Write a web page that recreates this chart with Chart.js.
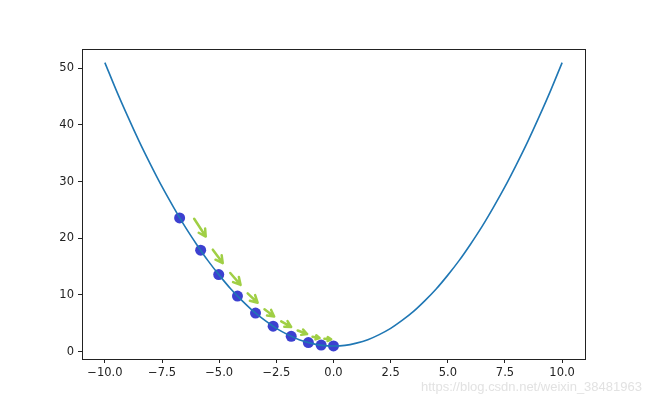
<!DOCTYPE html>
<html>
<head>
<meta charset="utf-8">
<script src="https://cdn.jsdelivr.net/npm/chart.js@4"></script>
<style>
  body { margin: 0; background: #fff; }
  #wrap { width: 650px; height: 404px; }
</style>
</head>
<body>
<div id="wrap"><canvas id="myChart" width="650" height="404"></canvas></div>
<script>
// curve f(x)
let curveX = [-10, -9.5, -9, -8.5, -8, -7.5, -7, -6.5, -6, -5.5, -5, -4.5, -4, -3.5, -3, -2.5, -2, -1.5, -1, -0.5, 0,
  0.5, 1, 1.5, 2, 2.5, 3, 3.5, 4, 4.5, 5, 5.5, 6, 6.5, 7, 7.5, 8, 8.5, 9, 9.5, 10];
let curveY = [51, 46.1, 41.5, 37.1, 33, 29.1, 25.5, 22.1, 19, 16.1, 13.5, 11.1, 9, 7.1, 5.5, 4.1, 3, 2.1, 1.5, 1.1, 1,
  1.1, 1.5, 2.1, 3, 4.1, 5.5, 7.1, 9, 11.1, 13.5, 16.1, 19, 22.1, 25.5, 29.1, 33, 37.1, 41.5, 46.1, 51];

// descent steps (blue dots)
let stepX = [-6.73, -5.81, -5.02, -4.20, -3.41, -2.64, -1.85, -1.10, -0.54, 0.0];
let stepY = [23.6, 17.9, 13.6, 9.8, 6.8, 4.5, 2.7, 1.6, 1.15, 1.0];

let xTicks = [-10, -7.5, -5, -2.5, 0, 2.5, 5, 7.5, 10];
let yTicks = [0, 10, 20, 30, 40, 50];

let watermark = 'https://blog.csdn.net/weixin_38481963';

let curvePts = curveX.map((x, i) => ({ x: x, y: curveY[i] }));
let stepPts = stepX.map((x, i) => ({ x: x, y: stepY[i] }));

let font = { family: 'DejaVu Sans', size: 11.5 };

// box, green arrows and watermark
let extras = {
  id: 'extras',
  afterDatasetsDraw(chart) {
    let c = chart.ctx;
    let pts = chart.getDatasetMeta(1).data;
    c.save();
    c.strokeStyle = '#a0cf45';
    c.lineWidth = 2.5;
    c.lineCap = 'round';
    c.lineJoin = 'round';
    for (let i = 0; i < pts.length - 1; i++) {
      let a = pts[i], b = pts[i + 1];
      let dx = b.x - a.x, dy = b.y - a.y;
      let len = Math.sqrt(dx * dx + dy * dy);
      let ux = dx / len, uy = dy / len;
      let off = 4 + 0.2 * len;
      let cx = (a.x + b.x) / 2 + uy * off;
      let cy = (a.y + b.y) / 2 - ux * off;
      let hl = len * 0.55 / 2;
      let tx = cx - ux * hl, ty = cy - uy * hl;
      let hx = cx + ux * hl, hy = cy + uy * hl;
      let h = Math.min(8, hl * 1.2);
      let ang = Math.atan2(uy, ux);
      c.beginPath();
      c.moveTo(tx, ty);
      c.lineTo(hx, hy);
      c.moveTo(hx - h * Math.cos(ang - 0.5), hy - h * Math.sin(ang - 0.5));
      c.lineTo(hx, hy);
      c.lineTo(hx - h * Math.cos(ang + 0.5), hy - h * Math.sin(ang + 0.5));
      c.stroke();
    }
    c.restore();
  },
  afterDraw(chart) {
    let c = chart.ctx;
    let ca = chart.chartArea;
    c.save();
    c.strokeStyle = '#222';
    c.lineWidth = 1;
    c.strokeRect(Math.round(ca.left) + 0.5, Math.round(ca.top) + 0.5,
      Math.round(ca.right - ca.left), Math.round(ca.bottom - ca.top));
    c.fillStyle = '#e2e2e2';
    c.font = '13px "Liberation Sans"';
    let w = c.measureText(watermark).width;
    let fs = 13 * 221 / w;
    c.font = fs.toFixed(2) + 'px "Liberation Sans"';
    c.textAlign = 'left';
    c.textBaseline = 'middle';
    c.fillText(watermark, 421, 387);
    c.restore();
  }
};

var ctx = document.getElementById('myChart');
var myChart = new Chart(ctx, {
  type: 'scatter',
  data: {
    datasets: [{
      data: curvePts,
      showLine: true,
      borderColor: '#1f77b4',
      borderWidth: 1.6,
      pointRadius: 0,
      cubicInterpolationMode: 'monotone'
    }, {
      data: stepPts,
      showLine: false,
      backgroundColor: '#3c40d0',
      borderColor: '#3c40d0',
      pointRadius: 5.5,
      borderWidth: 0
    }]
  },
  options: {
    responsive: false,
    animation: false,
    layout: { padding: { left: 0, top: 49, right: 65, bottom: 0 } },
    plugins: {
      legend: { display: false },
      tooltip: { enabled: false }
    },
    scales: {
      x: {
        type: 'linear',
        min: -11,
        max: 11,
        afterBuildTicks: (s) => { s.ticks = xTicks.map(v => ({ value: v })); },
        afterFit: (s) => { s.height = 45; },
        grid: { display: true, drawOnChartArea: false, tickLength: 4, tickColor: '#222' },
        border: { display: false },
        ticks: {
          color: '#222',
          font: font,
          padding: 3,
          maxRotation: 0,
          callback: (v) => v.toFixed(1).replace('-', '\u2212')
        }
      },
      y: {
        type: 'linear',
        min: -1.3,
        max: 53.4,
        afterBuildTicks: (s) => { s.ticks = yTicks.map(v => ({ value: v })); },
        afterFit: (s) => { s.width = 82; },
        grid: { display: true, drawOnChartArea: false, tickLength: 4, tickColor: '#222' },
        border: { display: false },
        ticks: {
          color: '#222',
          font: font,
          padding: 4,
          callback: (v) => String(v)
        }
      }
    }
  },
  plugins: [extras]
});
</script>
</body>
</html>
